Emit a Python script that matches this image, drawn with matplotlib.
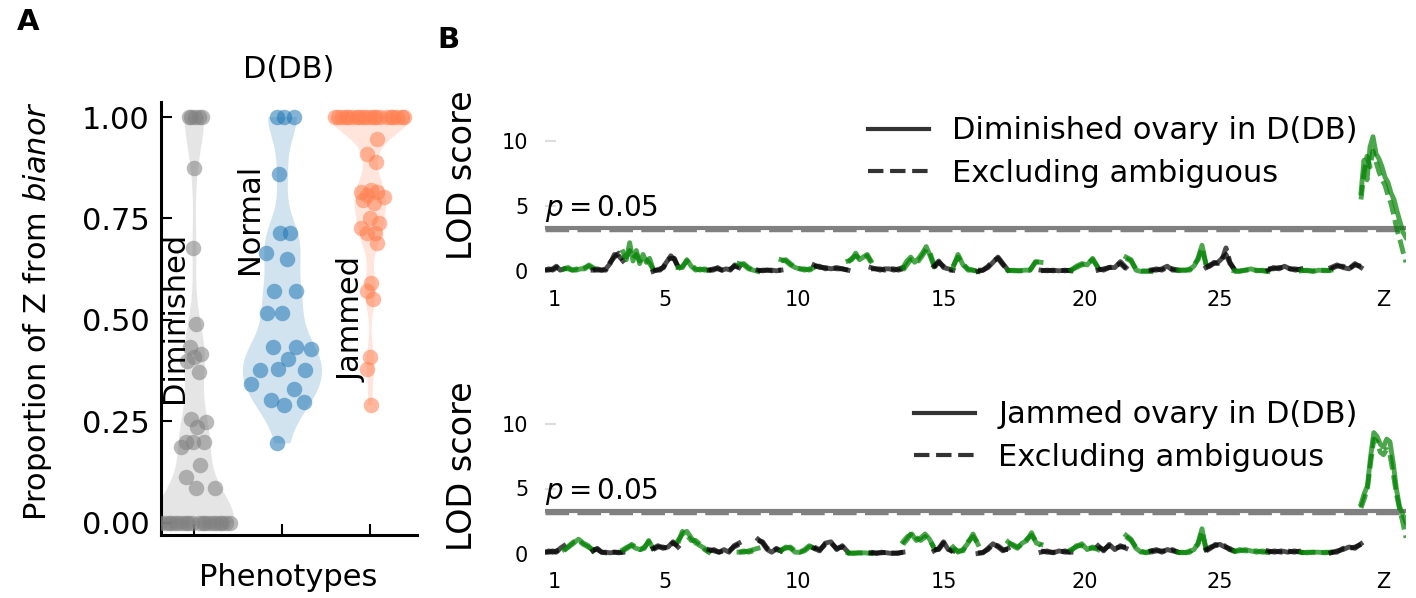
import numpy as np
import matplotlib
matplotlib.use("Agg")
import matplotlib.pyplot as plt
from matplotlib.mlab import GaussianKDE
from matplotlib.lines import Line2D

# ---------------- Panel A data: proportion of Z from bianor ----------------
phenotypes = ["Diminished", "Normal", "Jammed"]
prop_diminished = [1.0, 1.0, 1.0, 1.0, 1.0, 0.875, 0.678, 0.49, 0.434, 0.416,
                   0.408, 0.40, 0.371, 0.257, 0.249, 0.237, 0.20, 0.20, 0.20,
                   0.188, 0.143, 0.114, 0.086, 0.086] + [0.0] * 20
prop_normal = [1.0, 1.0, 1.0, 0.859, 0.714, 0.714, 0.665, 0.649, 0.571, 0.571,
               0.518, 0.518, 0.433, 0.433, 0.429, 0.404, 0.376, 0.376, 0.38,
               0.343, 0.331, 0.302, 0.298, 0.29, 0.196]
prop_jammed = [1.0] * 20 + [0.947, 0.91, 0.89, 0.82, 0.816, 0.816, 0.808, 0.804,
                            0.788, 0.796, 0.739, 0.751, 0.727, 0.714, 0.714,
                            0.69, 0.592, 0.571, 0.551, 0.408, 0.38, 0.29]

# ---------------- Panel B data: LOD scans along the genome ----------------
chrom_names = [str(i) for i in range(1, 30)] + ["Z"]
chrom_mb = [9.5, 14.5, 15.0, 15.0, 12.5, 15.5, 15.0, 9.5, 11.5, 16.5,
            17.0, 11.5, 16.0, 15.5, 9.5, 12.5, 15.0, 16.5, 15.0, 13.5,
            14.0, 12.5, 13.5, 14.0, 14.0, 17.0, 16.5, 15.0, 15.0, 22.5]
tick_chroms = ["1", "5", "10", "15", "20", "25", "Z"]
lod_threshold = 3.3
lod_threshold_excl = 3.15

dim_lod_all = [
    [0.1, 0.1, 0.2, 0.4, 0.1, 0.2],
    [0.2, 0.3, 0.1, 0.1, 0.2, 0.2, 0.5, 0.3],
    [0.1, 0.1, 0.1, 0.2, 0.6, 1.3, 1.2, 0.8],
    [1.5, 0.9, 2.2, 0.8, 1.6, 0.6, 1.3, 0.7, 1.0, 0.2],
    [0.0, 0.1, 0.1, 0.4, 0.8, 1.2, 0.9, 0.4],
    [0.3, 0.3, 0.9, 0.4, 0.1, 0.2, 0.1, 0.1],
    [0.1, 0.1, 0.3, 0.1, 0.2, 0.1, 0.5, 0.3],
    [0.6, 0.5, 0.2, 0.1, 0.0],
    [0.1, 0.05, 0.1, 0.1, 0.05, 0.1],
    [0.9, 0.8, 0.5, 0.3, 0.2, 0.2, 0.1, 0.3],
    [0.5, 0.3, 0.3, 0.2, 0.3, 0.2, 0.1],
    [0.8, 0.9, 1.4, 0.9, 1.1, 1.3, 0.8],
    [0.3, 0.2, 0.1, 0.2, 0.2, 0.1, 0.2, 0.3],
    [0.3, 0.8, 1.1, 0.7, 1.0, 1.4, 1.9, 1.2, 0.4],
    [0.4, 0.8, 0.3, 0.2, 0.1],
    [0.3, 1.3, 0.5, 0.2, 0.1, 0.0],
    [0.0, 0.1, 0.3, 0.7, 1.1, 0.6, 0.1],
    [0.1, 0.05, 0.05, 0.1, 0.1, 0.75, 0.7],
    [0.1, 0.05, 0.1, 0.05, 0.1, 0.05],
    [0.1, 0.4, 0.6, 0.5, 1.0, 0.3],
    [0.1, 0.2, 0.3, 0.3, 0.75, 0.3],
    [1.1, 0.9, 0.1, 0.0, 0.05, 0.0],
    [0.1, 0.1, 0.2, 0.4, 0.1, 0.1],
    [0.1, 0.1, 0.1, 0.2, 0.4, 1.0, 2.0, 0.6],
    [0.3, 0.5, 0.6, 0.7, 1.0, 1.3, 0.6, 0.2],
    [0.05, 0.0, 0.1, 0.2, 0.05, 0.1, 0.0],
    [0.1, 0.3, 0.2, 0.4, 0.2, 0.1, 0.2],
    [0.05, 0.1, 0.0, 0.1, 0.05, 0.1],
    [0.3, 0.5, 0.3, 0.2, 0.6, 0.3],
    [6.0, 8.5, 7.0, 9.5, 10.3, 9.0, 8.6, 8.0, 7.2, 6.8, 6.0, 5.5, 4.6, 3.8, 3.0, 2.6],
]
dim_lod_excl = [
    [0.1, 0.2, 0.1, 0.3, 0.2, 0.1],
    [0.2, 0.2, 0.1, 0.2, 0.1, 0.3, 0.4, 0.2],
    [0.1, 0.2, 0.1, 0.1, 0.7, 1.1, 1.4, 0.9],
    [1.3, 1.1, 1.6, 1.0, 1.3, 0.8, 1.1, 0.9, 0.6, 0.2],
    [0.1, 0.1, 0.2, 0.3, 0.9, 1.0, 1.0, 0.3],
    [0.2, 0.4, 0.8, 0.5, 0.2, 0.1, 0.2, 0.1],
    [0.1, 0.2, 0.2, 0.1, 0.1, 0.2, 0.4, 0.3],
    [0.5, 0.6, 0.3, 0.1, 0.1],
    [0.05, 0.1, 0.1, 0.05, 0.1, 0.1],
    [0.8, 0.9, 0.6, 0.3, 0.2, 0.1, 0.2, 0.2],
    [0.4, 0.4, 0.2, 0.3, 0.2, 0.2, 0.1],
    [0.7, 1.0, 1.2, 1.0, 1.0, 1.2, 0.7],
    [0.2, 0.2, 0.2, 0.1, 0.2, 0.2, 0.1, 0.2],
    [0.1, 0.5, 0.9, 0.9, 0.8, 1.2, 1.7, 1.4, 0.5],
    [0.3, 0.7, 0.4, 0.1, 0.1],
    [0.4, 1.1, 0.6, 0.1, 0.1, 0.0],
    [0.1, 0.1, 0.4, 0.8, 1.0, 0.5, 0.1],
    [0.05, 0.1, 0.05, 0.05, 0.1, 0.7, 0.75],
    [0.05, 0.1, 0.05, 0.1, 0.05, 0.1],
    [0.1, 0.3, 0.5, 0.6, 0.9, 0.3],
    [0.2, 0.1, 0.3, 0.4, 0.6, 0.2],
    [1.0, 0.8, 0.2, 0.05, 0.0, 0.05],
    [0.1, 0.2, 0.1, 0.3, 0.2, 0.1],
    [0.05, 0.1, 0.1, 0.1, 0.5, 0.9, 1.8, 0.5],
    [0.3, 0.4, 0.7, 0.6, 0.9, 1.8, 0.7, 0.2],
    [0.0, 0.05, 0.1, 0.1, 0.1, 0.05, 0.0],
    [0.2, 0.2, 0.3, 0.3, 0.2, 0.2, 0.1],
    [0.1, 0.05, 0.05, 0.1, 0.1, 0.05],
    [0.2, 0.4, 0.4, 0.2, 0.5, 0.4],
    [5.5, 7.5, 8.8, 8.0, 9.2, 8.4, 7.6, 7.0, 6.6, 5.8, 5.2, 4.2, 3.2, 2.4, 1.5, 0.7],
]
jam_lod_all = [
    [0.1, 0.1, 0.2, 0.1, 0.4, 0.6],
    [0.3, 0.5, 0.8, 1.1, 0.8, 0.6, 0.2],
    [0.2, 0.4, 0.1, 0.1, 0.05, 0.1, 0.1, 0.1],
    [0.3, 0.5, 0.6, 0.4, 0.3, 0.4, 1.0, 0.4],
    [0.4, 0.6, 0.4, 0.5, 0.9, 0.5],
    [1.0, 1.5, 1.7, 1.2, 0.8, 0.6, 0.4, 0.1],
    [0.3, 0.2, 0.1, 0.3, 0.1, 0.6, 0.8],
    [0.1, 0.1, 0.2, 0.3, 0.4],
    [1.1, 0.8, 0.3, 0.1, 0.4, 0.2],
    [0.2, 0.5, 0.4, 0.1, 0.1, 0.3, 0.6, 0.4],
    [0.4, 0.2, 0.8, 0.9, 0.3, 0.6, 0.1],
    [0.05, 0.0, 0.05, 0.05, 0.0],
    [0.05, 0.0, 0.1, 0.05, 0.0, 0.05, 0.1],
    [0.9, 1.3, 1.5, 1.0, 1.2, 1.5, 1.1, 0.4],
    [0.2, 0.4, 0.9, 0.3, 0.2],
    [0.5, 0.1, 0.3, 0.8, 1.5, 0.7],
    [0.0, 0.05, 0.4, 0.75, 0.5, 0.2, 0.4],
    [0.9, 0.6, 0.4, 0.8, 1.0, 1.6, 0.8, 0.7],
    [0.1, 0.2, 0.05, 0.2, 0.1, 0.1],
    [0.3, 0.5, 0.75, 0.3, 0.5, 0.3],
    [0.6, 0.2, 0.7, 0.3, 0.6, 0.4],
    [1.4, 1.1, 0.4, 0.1, 0.1, 0.2],
    [0.2, 0.3, 0.1, 0.3, 0.2, 0.1],
    [0.1, 0.05, 0.1, 0.2, 0.3, 0.8, 1.9, 0.3],
    [0.3, 0.5, 0.6, 0.7, 0.5, 0.4, 0.2],
    [0.2, 0.2, 0.3, 0.2, 0.1, 0.2, 0.1],
    [0.2, 0.1, 0.2, 0.1, 0.2, 0.1],
    [0.1, 0.05, 0.1, 0.1, 0.05, 0.1],
    [0.05, 0.2, 0.3, 0.5, 0.4, 0.75],
    [3.8, 4.6, 5.2, 7.5, 9.3, 9.0, 8.4, 8.2, 8.8, 8.6, 7.0, 5.0, 3.6, 3.0, 2.4],
]
jam_lod_excl = [
    [0.1, 0.2, 0.1, 0.2, 0.3, 0.5],
    [0.2, 0.6, 0.9, 1.0, 0.7, 0.5, 0.3],
    [0.3, 0.3, 0.1, 0.05, 0.1, 0.1, 0.05, 0.1],
    [0.2, 0.4, 0.7, 0.5, 0.3, 0.5, 0.9, 0.3],
    [0.3, 0.5, 0.5, 0.4, 0.8, 0.6],
    [0.8, 1.7, 1.4, 1.0, 1.0, 0.7, 0.3, 0.1],
    [0.2, 0.3, 0.1, 0.2, 0.2, 0.5, 0.7],
    [0.1, 0.2, 0.1, 0.2, 0.4],
    [1.0, 0.9, 0.4, 0.2, 0.3, 0.2],
    [0.3, 0.4, 0.5, 0.2, 0.1, 0.2, 0.5, 0.5],
    [0.5, 0.3, 0.7, 0.8, 0.4, 0.5, 0.1],
    [0.0, 0.05, 0.05, 0.0, 0.05],
    [0.1, 0.05, 0.05, 0.1, 0.05, 0.0, 0.1],
    [0.7, 1.1, 1.6, 1.2, 1.0, 1.3, 1.0, 0.5],
    [0.3, 0.3, 0.8, 0.4, 0.1],
    [0.4, 0.2, 0.2, 0.9, 1.3, 0.8],
    [0.05, 0.1, 0.3, 0.7, 0.6, 0.3, 0.3],
    [0.8, 0.7, 0.5, 0.7, 1.1, 1.4, 0.9, 0.6],
    [0.2, 0.1, 0.1, 0.1, 0.2, 0.1],
    [0.2, 0.6, 0.6, 0.4, 0.4, 0.4],
    [0.5, 0.3, 0.6, 0.4, 0.5, 0.5],
    [1.3, 1.0, 0.5, 0.2, 0.05, 0.1],
    [0.1, 0.2, 0.2, 0.2, 0.3, 0.1],
    [0.05, 0.1, 0.05, 0.1, 0.4, 0.7, 1.7, 0.4],
    [0.2, 0.4, 0.7, 0.6, 0.6, 0.3, 0.2],
    [0.1, 0.3, 0.2, 0.2, 0.2, 0.1, 0.1],
    [0.1, 0.2, 0.1, 0.2, 0.1, 0.2],
    [0.05, 0.1, 0.1, 0.05, 0.1, 0.1],
    [0.1, 0.1, 0.4, 0.4, 0.5, 0.7],
    [3.5, 4.2, 5.0, 7.0, 8.8, 8.6, 7.8, 7.6, 8.0, 7.6, 6.2, 4.6, 3.4, 2.4, 1.2],
]

# ---------------- figure ----------------
W, H = 1416, 598
fig = plt.figure(figsize=(W / 100, H / 100), dpi=100)


def axes_px(left, top, right, bottom):
    return fig.add_axes([left / W, 1 - bottom / H, (right - left) / W, (bottom - top) / H])


def text_px(x, y, s, **kw):
    fig.text(x / W, 1 - y / H, s, ha="center", va="center", **kw)


# ---------------- Panel A ----------------
violin_colors = ["gray", "#1f77b4", "#ff7f50"]
groups = [prop_diminished, prop_normal, prop_jammed]


def narrow_scott(kde):
    # Scott's rule with a narrower kernel
    return 0.45 * kde.num_dp ** (-0.2)


axA = axes_px(161, 102, 417, 535)
vwidth = 0.9
vp = axA.violinplot(groups, positions=[0, 1, 2], widths=vwidth,
                    showextrema=False, points=200, bw_method=narrow_scott)
for body, c in zip(vp["bodies"], violin_colors):
    body.set_facecolor(c)
    body.set_edgecolor("none")
    body.set_alpha(0.2)

# points spread inside the violin outline (sina-style)
for i, (vals, c) in enumerate(zip(groups, violin_colors)):
    vals = np.asarray(vals, dtype=float)
    kde = GaussianKDE(vals, narrow_scott)
    grid = np.linspace(vals.min(), vals.max(), 200)
    dmax = kde.evaluate(grid).max()
    half = 0.5 * vwidth * kde.evaluate(vals) / dmax
    u = ((np.arange(len(vals)) * 0.6180339887 + 0.31) % 1.0) * 2 - 1
    axA.scatter(i + 0.92 * u * half, vals, s=125, color=c, alpha=0.55,
                linewidths=0, zorder=3)

axA.set_xlim(-0.38, 2.53)
axA.set_ylim(-0.03, 1.037)
axA.set_xticks([0, 1, 2])
axA.set_xticklabels([])
axA.set_yticks([0, 0.25, 0.5, 0.75, 1.0])
axA.set_yticklabels(["0.00", "0.25", "0.50", "0.75", "1.00"])
for s in ["top", "right"]:
    axA.spines[s].set_visible(False)
for s in ["left", "bottom"]:
    axA.spines[s].set_linewidth(2.2)
axA.tick_params(direction="in", length=8, width=1.5, labelsize=22, pad=8)

axA.text(-0.23, 0.505, "Diminished", rotation=90, ha="center", va="center", fontsize=22)
axA.text(0.63, 0.75, "Normal", rotation=90, ha="center", va="center", fontsize=22)
axA.text(1.79, 0.50, "Jammed", rotation=90, ha="center", va="center", fontsize=22)

text_px(289, 70, "D(DB)", fontsize=22)
text_px(288, 578, "Phenotypes", fontsize=22)
text_px(38, 311, r"Proportion of Z from $\it{bianor}$", fontsize=22, rotation=90)
text_px(28, 22, "A", fontsize=21, fontweight="bold")
text_px(448, 40, "B", fontsize=21, fontweight="bold")

# ---------------- Panel B ----------------
starts = np.concatenate([[0.0], np.cumsum(chrom_mb)[:-1]])
mids = starts + np.asarray(chrom_mb) / 2
total = float(np.sum(chrom_mb))


def lod_panel(ax, lod_all, lod_excl, legend_label, legend_top_px):
    for k, length in enumerate(chrom_mb):
        c = "black" if k % 2 == 0 else "green"
        xa = np.linspace(starts[k], starts[k] + length, len(lod_all[k]))
        xe = np.linspace(starts[k], starts[k] + length, len(lod_excl[k]))
        ax.plot(xa, lod_all[k], color=c, lw=3.5, alpha=0.7, solid_joinstyle="round")
        ax.plot(xe, lod_excl[k], color=c, lw=3.5, alpha=0.7, ls=(0, (3, 1.2)))
    ax.axhline(lod_threshold, color="gray", lw=3, zorder=1)
    ax.axhline(lod_threshold_excl, color="gray", lw=2.5, zorder=1,
               ls=(0, (17 / 2.5, 6 / 2.5)))
    ax.text(0, lod_threshold + 0.3, r"$p = 0.05$", fontsize=20,
            ha="left", va="bottom")
    ax.set_xlim(0, total)
    ax.set_ylim(-0.5, 11.5)
    ax.set_yticks([0, 5, 10])
    idx = [chrom_names.index(n) for n in tick_chroms]
    ax.set_xticks(mids[idx])
    ax.set_xticklabels(tick_chroms)
    for s in ax.spines.values():
        s.set_visible(False)
    ax.tick_params(axis="y", direction="in", length=8, width=1.5,
                   color="#dddddd", labelsize=15, pad=12)
    ax.tick_params(axis="x", length=0, labelsize=15, pad=9)
    handles = [Line2D([], [], color="#333333", lw=3),
               Line2D([], [], color="#333333", lw=3, ls="--")]
    ax.legend(handles, [legend_label, "Excluding ambiguous"], loc="upper right",
              bbox_to_anchor=(1370 / W, 1 - legend_top_px / H),
              bbox_transform=fig.transFigure, frameon=False, fontsize=22,
              borderaxespad=0, handlelength=2.0, handletextpad=0.75,
              labelspacing=0.45)


axB1 = axes_px(545, 121, 1406, 278)
lod_panel(axB1, dim_lod_all, dim_lod_excl, "Diminished ovary in D(DB)", 104)
text_px(463, 175, "LOD score", fontsize=24, rotation=90)

axB2 = axes_px(545, 404, 1406, 560)
lod_panel(axB2, jam_lod_all, jam_lod_excl, "Jammed ovary in D(DB)", 388)
text_px(463, 466, "LOD score", fontsize=24, rotation=90)

fig.savefig("out.png", dpi=100)
